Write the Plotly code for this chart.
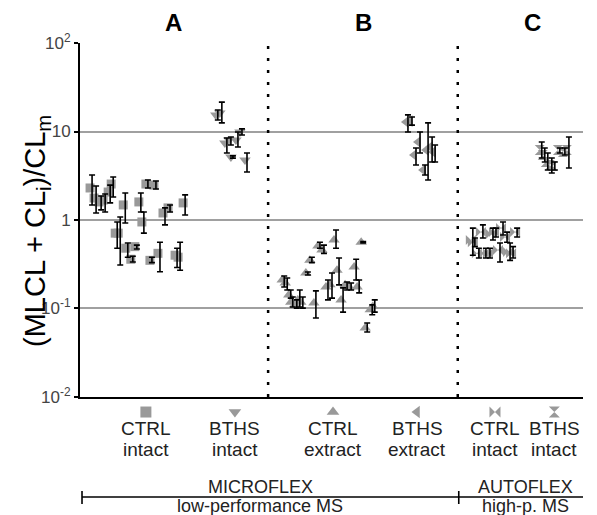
import plotly.graph_objects as go

# ---------------- data (position along the sample axis, value, upper, lower) ----------------
a_ctrl_x = [2.4, 3.2, 4.2, 5.0, 6.0, 6.6, 7.4, 8.0, 9.0, 9.5, 10.5, 11.3, 12.1, 12.7, 13.5, 14.3, 15.1, 15.9, 16.9, 17.9, 19.3, 19.9, 20.9]
a_ctrl_v = [2.30, 1.77, 1.60, 1.68, 2.07, 2.55, 0.71, 0.71, 1.48, 0.48, 0.36, 0.50, 1.60, 0.95, 2.55, 0.35, 2.48, 0.42, 1.20, 1.37, 0.40, 0.38, 1.56]
a_ctrl_hi = [3.23, 2.42, 1.87, 1.97, 2.48, 3.06, 0.95, 1.08, 2.02, 0.55, 0.39, 0.52, 2.02, 1.23, 2.83, 0.38, 2.76, 0.56, 1.37, 1.48, 0.48, 0.56, 1.92]
a_ctrl_lo = [1.48, 1.20, 1.30, 1.23, 1.56, 1.82, 0.48, 0.31, 0.925, 0.38, 0.335, 0.47, 1.23, 0.71, 2.30, 0.33, 2.24, 0.26, 0.88, 1.23, 0.29, 0.27, 1.14]

a_bths_x = [27.4, 28.2, 29.2, 30.0, 30.4, 31.4, 32.2, 33.2]
a_bths_v = [15.4, 16.2, 7.41, 8.01, 5.15, 8.01, 9.87, 4.76]
a_bths_hi = [17.5, 21.5, 8.45, 8.66, 5.3, 9.87, 10.7, 5.71]
a_bths_lo = [13.5, 12.5, 5.71, 7.04, 5.0, 6.68, 9.12, 3.49]

b_ctrl_x = [40.6, 41.2, 41.9, 42.3, 43.1, 43.7, 44.3, 45.3, 46.1, 46.9, 47.7, 48.5, 49.3, 50.1, 50.9, 51.5, 52.3, 53.1, 53.9, 54.9, 55.5, 56.3, 57.1, 58.1, 58.6]
b_ctrl_v = [0.21, 0.194, 0.142, 0.118, 0.110, 0.125, 0.118, 0.252, 0.35, 0.115, 0.508, 0.458, 0.175, 0.185, 0.594, 0.27, 0.125, 0.185, 0.175, 0.294, 0.175, 0.56, 0.060, 0.097, 0.105]
b_ctrl_hi = [0.233, 0.221, 0.162, 0.135, 0.125, 0.162, 0.135, 0.258, 0.38, 0.158, 0.56, 0.52, 0.21, 0.252, 0.77, 0.372, 0.171, 0.199, 0.194, 0.36, 0.21, 0.57, 0.0686, 0.110, 0.125]
b_ctrl_lo = [0.175, 0.162, 0.131, 0.104, 0.101, 0.104, 0.101, 0.239, 0.33, 0.078, 0.48, 0.42, 0.125, 0.131, 0.48, 0.185, 0.091, 0.162, 0.162, 0.21, 0.150, 0.55, 0.0542, 0.085, 0.091]

b_bths_x = [65.2, 66.0, 66.8, 67.6, 68.6, 69.2, 70.0, 70.6]
b_bths_v = [12.8, 13.1, 5.42, 7.6, 3.67, 6.18, 6.68, 5.87]
b_bths_hi = [15.4, 14.6, 6.5, 9.87, 4.18, 12.5, 8.66, 7.04]
b_bths_lo = [9.87, 11.8, 4.18, 5.71, 3.23, 2.83, 4.52, 4.52]

c_ctrl_x = [78.1, 78.5, 79.3, 80.1, 80.7, 81.5, 82.1, 82.7, 83.5, 84.1, 84.9, 85.5, 86.1, 86.9]
c_ctrl_v = [0.594, 0.56, 0.42, 0.73, 0.42, 0.42, 0.695, 0.73, 0.458, 0.81, 0.643, 0.435, 0.42, 0.73]
c_ctrl_hi = [0.81, 0.627, 0.48, 0.88, 0.48, 0.48, 0.81, 0.81, 0.55, 0.95, 0.73, 0.55, 0.50, 0.81]
c_ctrl_lo = [0.40, 0.50, 0.372, 0.627, 0.372, 0.372, 0.594, 0.643, 0.335, 0.677, 0.56, 0.35, 0.372, 0.643]

c_bths_x = [91.8, 92.4, 93.0, 93.8, 94.4, 95.4, 96.4, 97.2]
c_bths_v = [6.18, 5.42, 4.52, 4.18, 4.07, 6.18, 5.87, 6.18]
c_bths_hi = [7.6, 6.5, 5.71, 5.02, 4.52, 6.5, 6.5, 8.66]
c_bths_lo = [5.02, 4.52, 3.67, 3.40, 3.67, 5.71, 5.42, 3.87]

group_names = ["CTRL", "BTHS", "CTRL", "BTHS", "CTRL", "BTHS"]
group_states = ["intact", "intact", "extract", "extract", "intact", "intact"]
group_label_x = [13.1, 30.8, 50.3, 67.0, 82.5, 94.3]
group_symbols = ["square", "triangle-down", "triangle-up", "triangle-left", "bowtie", "hourglass"]
panel_letters = ["A", "B", "C"]
panel_letter_x = [18.5, 56.3, 89.9]
separator_x = [37.4, 75.1]
y_tickvals = [0.01, 0.1, 1, 10, 100]
y_ticktext = ["10<sup>-2</sup>", "10<sup>-1</sup>", "1", "10", "10<sup>2</sup>"]
y_title = "(MLCL + CL<sub>i</sub>)/CL<sub>m</sub>"
bracket_x = [0.4, 75.3, 101.8]
instrument_x = [35.8, 88.5]
instrument_names = ["MICROFLEX", "AUTOFLEX"]
instrument_notes = ["low-performance MS", "high-p. MS"]

GRAY = "#999999"
FONT = "Liberation Sans, Arial, sans-serif"
TXT = "#222222"

groups = [
    (a_ctrl_x, a_ctrl_v, a_ctrl_hi, a_ctrl_lo, "square", 9),
    (a_bths_x, a_bths_v, a_bths_hi, a_bths_lo, "triangle-down", 10),
    (b_ctrl_x, b_ctrl_v, b_ctrl_hi, b_ctrl_lo, "triangle-up", 10),
    (b_bths_x, b_bths_v, b_bths_hi, b_bths_lo, "triangle-left", 10),
    (c_ctrl_x, c_ctrl_v, c_ctrl_hi, c_ctrl_lo, "bowtie", 10),
    (c_bths_x, c_bths_v, c_bths_hi, c_bths_lo, "hourglass", 10),
]

# vertical layout (paper fractions): main plot occupies the top, label band below
MAIN_BOTTOM = 0.242

def py(p):
    # figure-pixel row -> paper fraction (plot area spans rows 43..510)
    return (510 - p) / 467.0

def px(p):
    # figure-pixel column -> paper fraction (plot area spans columns 80..583)
    return (p - 80) / 503.0

fig = go.Figure()
for xs, vs, his, los, sym, sz in groups:
    fig.add_trace(go.Scatter(
        x=[x - 0.4 for x in xs], y=vs, mode="markers",
        marker=dict(symbol=sym, size=sz, color=GRAY, line=dict(width=0)),
        showlegend=False, hoverinfo="skip"))
    fig.add_trace(go.Scatter(
        x=xs, y=vs, mode="markers",
        marker=dict(size=1, color="rgba(0,0,0,0)"),
        error_y=dict(type="data", symmetric=False,
                     array=[h - v for h, v in zip(his, vs)],
                     arrayminus=[v - l for v, l in zip(vs, los)],
                     color="black", thickness=1.6, width=3),
        showlegend=False, hoverinfo="skip"))

# category symbols in the label band
fig.add_trace(go.Scatter(
    x=group_label_x, y=[0.867] * len(group_label_x), mode="markers",
    xaxis="x", yaxis="y2",
    marker=dict(symbol=group_symbols, size=11, color=GRAY, line=dict(width=0)),
    showlegend=False, hoverinfo="skip"))

shapes = []
for sx in separator_x:
    shapes.append(dict(type="line", xref="x", yref="y domain", x0=sx, x1=sx, y0=0, y1=1,
                       line=dict(color="black", width=2.5, dash="3px,9px")))
# bottom bracket
shapes.append(dict(type="line", xref="x", yref="paper", x0=bracket_x[0], x1=bracket_x[-1],
                   y0=py(497), y1=py(497), line=dict(color="black", width=1.6)))
for bx in bracket_x:
    shapes.append(dict(type="line", xref="x", yref="paper", x0=bx, x1=bx,
                       y0=py(491), y1=py(504), line=dict(color="black", width=1.6)))

annotations = []
for lx, n, s in zip(group_label_x, group_names, group_states):
    annotations.append(dict(x=lx, y=py(428), xref="x", yref="paper", text=n, showarrow=False,
                            xanchor="center", yanchor="middle",
                            font=dict(size=19, color=TXT, family=FONT)))
    annotations.append(dict(x=lx, y=py(449), xref="x", yref="paper", text=s, showarrow=False,
                            xanchor="center", yanchor="middle",
                            font=dict(size=19, color=TXT, family=FONT)))
for lx, pl in zip(panel_letter_x, panel_letters):
    annotations.append(dict(x=lx, y=py(22), xref="x", yref="paper", text="<b>" + pl + "</b>",
                            showarrow=False, xanchor="center", yanchor="middle",
                            font=dict(size=24, color="black", family=FONT)))
for tx, t1, t2 in zip(instrument_x, instrument_names, instrument_notes):
    annotations.append(dict(x=tx, y=py(487), xref="x", yref="paper", text=t1, showarrow=False,
                            xanchor="center", yanchor="middle",
                            font=dict(size=18, color=TXT, family=FONT)))
    annotations.append(dict(x=tx, y=py(505.5), xref="x", yref="paper", text=t2, showarrow=False,
                            xanchor="center", yanchor="middle",
                            font=dict(size=18, color=TXT, family=FONT)))
# y-axis title
annotations.append(dict(x=px(37), y=py(231), xref="paper", yref="paper", text=y_title,
                        showarrow=False, textangle=-90, xanchor="center", yanchor="middle",
                        font=dict(size=29, color="black", family=FONT)))

fig.update_layout(
    width=597, height=515,
    margin=dict(l=80, r=14, t=43, b=5, autoexpand=False),
    plot_bgcolor="white", paper_bgcolor="white",
    font=dict(family=FONT),
    shapes=shapes, annotations=annotations,
    xaxis=dict(range=[0, 100], showgrid=False, zeroline=False, showticklabels=False,
               ticks="", showline=True, linecolor="black", linewidth=2,
               anchor="y", automargin=False),
    yaxis=dict(type="log", range=[-2, 2], domain=[MAIN_BOTTOM, 1],
               tickvals=y_tickvals, ticktext=y_ticktext,
               showgrid=True, gridcolor="#a0a0a0", gridwidth=2,
               showline=True, linecolor="black", linewidth=2,
               ticks="outside", ticklen=4, tickwidth=2, tickcolor="black",
               tickfont=dict(size=17, color="#444", family=FONT),
               zeroline=False, automargin=False),
    yaxis2=dict(range=[0, 1], domain=[0, MAIN_BOTTOM], visible=False,
                anchor="x", automargin=False),
)

fig.write_html("out.html", config={"displayModeBar": False},
               post_script="document.body.style.margin='0';")
